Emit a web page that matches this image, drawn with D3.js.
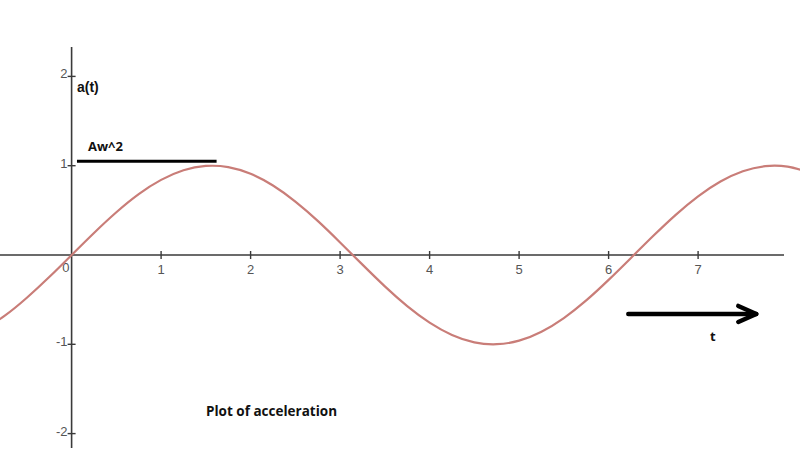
<!DOCTYPE html>
<html><head><meta charset="utf-8">
<script src="https://cdn.jsdelivr.net/npm/d3@7"></script>
<style>body{margin:0;background:#fff}svg{display:block}</style>
</head><body>
<svg id="c" width="800" height="457"></svg>
<script>
const xTicks = [1, 2, 3, 4, 5, 6, 7];
const yTicks = [2, 1, -1, -2];
const tValues = [-1.0, -0.75, -0.5, -0.25, 0, 0.25, 0.5, 0.75, 1.0, 1.25, 1.5, 1.75, 2.0, 2.25, 2.5, 2.75, 3.0, 3.25, 3.5, 3.75, 4.0, 4.25, 4.5, 4.75, 5.0, 5.25, 5.5, 5.75, 6.0, 6.25, 6.5, 6.75, 7.0, 7.25, 7.5, 7.75, 8.0, 8.25];
const aValues = [-0.841, -0.682, -0.479, -0.247, 0, 0.247, 0.479, 0.682, 0.841, 0.949, 0.997, 0.984, 0.909, 0.778, 0.598, 0.382, 0.141, -0.108, -0.351, -0.572, -0.757, -0.895, -0.978, -0.999, -0.959, -0.859, -0.706, -0.509, -0.279, -0.033, 0.215, 0.450, 0.657, 0.823, 0.938, 0.995, 0.989, 0.923];
const amplitudeLine = {from: 0.06, to: 1.62, value: 1.05};
const arrowT = [6.22, 7.65];
const arrowA = -0.66;

const svg = d3.select("#c");
const x = d3.scaleLinear().domain([0, 1]).range([71.6, 161.1]);
const y = d3.scaleLinear().domain([0, 1]).range([255, 165.7]);

svg.append("defs").append("clipPath").attr("id","clip")
  .append("rect").attr("x",0).attr("y",0).attr("width",800).attr("height",457);

const axisColor = "#3a3a3a";
const tickFont = "Liberation Sans, Arial, sans-serif";
svg.append("line").attr("x1",0).attr("x2",784).attr("y1",y(0)).attr("y2",y(0))
  .attr("stroke",axisColor).attr("stroke-width",1.6);
svg.append("line").attr("x1",x(0)).attr("x2",x(0)).attr("y1",47).attr("y2",448)
  .attr("stroke",axisColor).attr("stroke-width",1.6);

const xg = svg.append("g");
xTicks.forEach(t => {
  xg.append("line").attr("x1",x(t)).attr("x2",x(t)).attr("y1",y(0)-4).attr("y2",y(0)+4)
    .attr("stroke",axisColor).attr("stroke-width",1.4);
  xg.append("text").attr("x",x(t)).attr("y",y(0)+19).attr("text-anchor","middle")
    .attr("font-family",tickFont).attr("font-size",13).attr("fill","#555").text(t);
});
xg.append("text").attr("x",x(0)-2).attr("y",y(0)+17).attr("text-anchor","end")
  .attr("font-family",tickFont).attr("font-size",13).attr("fill","#555").text("0");

const yg = svg.append("g");
yTicks.forEach(v => {
  yg.append("line").attr("x1",x(0)-4).attr("x2",x(0)+4).attr("y1",y(v)).attr("y2",y(v))
    .attr("stroke",axisColor).attr("stroke-width",1.4);
  yg.append("text").attr("x",x(0)-4).attr("y",y(v)+2).attr("text-anchor","end")
    .attr("font-family",tickFont).attr("font-size",13).attr("fill","#555").text(v);
});

const data = tValues.map((t,i)=>({t, a:aValues[i]}));
svg.append("path").datum(data).attr("clip-path","url(#clip)")
  .attr("d", d3.line().x(d=>x(d.t)).y(d=>y(d.a)).curve(d3.curveNatural))
  .attr("fill","none").attr("stroke","#c97d78").attr("stroke-width",2.2);

svg.append("line").attr("x1",x(amplitudeLine.from)).attr("x2",x(amplitudeLine.to))
  .attr("y1",y(amplitudeLine.value)).attr("y2",y(amplitudeLine.value))
  .attr("stroke","#000").attr("stroke-width",3);

const ay = y(arrowA);
const ax1 = x(arrowT[0]), ax2 = x(arrowT[1]);
svg.append("line").attr("x1",ax1).attr("x2",ax2).attr("y1",ay).attr("y2",ay)
  .attr("stroke","#000").attr("stroke-width",4.5).attr("stroke-linecap","round");
svg.append("path").attr("d",`M${ax2-18},${ay-8} L${ax2},${ay} L${ax2-18},${ay+8}`)
  .attr("fill","none").attr("stroke","#000").attr("stroke-width",4.5)
  .attr("stroke-linecap","round").attr("stroke-linejoin","round");

const bold = "Open Sans, Liberation Sans, Arial, sans-serif";
svg.append("text").attr("x",77).attr("y",92).attr("font-family","Liberation Sans, Arial, sans-serif")
  .attr("font-weight","bold").attr("font-size",14).attr("fill","#111").text("a(t)");
svg.append("text").attr("x",88).attr("y",151).attr("font-family",bold)
  .attr("font-weight","bold").attr("font-size",13).attr("fill","#111").text("Aw^2");
svg.append("text").attr("x",710).attr("y",341).attr("font-family",bold)
  .attr("font-weight","bold").attr("font-size",13).attr("fill","#111").text("t");
svg.append("text").attr("x",206).attr("y",416).attr("font-family",bold)
  .attr("font-weight","bold").attr("font-size",13.5).attr("fill","#111").text("Plot of acceleration");
</script>
</body></html>
